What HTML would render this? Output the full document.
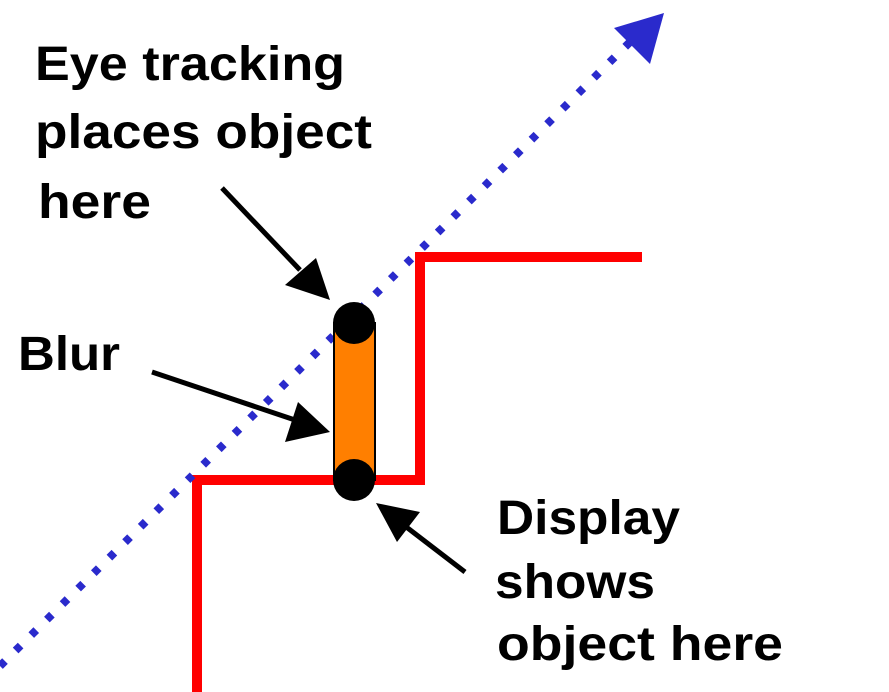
<!DOCTYPE html>
<html><head><meta charset="utf-8"><style>html,body{margin:0;padding:0;background:#fff}svg{display:block}</style></head>
<body>
<svg width="889" height="692" viewBox="0 0 889 692" xmlns="http://www.w3.org/2000/svg">
<g font-family="Liberation Sans, sans-serif" font-weight="bold" font-size="48" fill="#000">
<text x="35" y="80" textLength="310" lengthAdjust="spacingAndGlyphs">Eye tracking</text>
<text x="35" y="148" textLength="337" lengthAdjust="spacingAndGlyphs">places object</text>
<text x="38" y="218" textLength="113" lengthAdjust="spacingAndGlyphs">here</text>
<text x="18" y="370" textLength="102" lengthAdjust="spacingAndGlyphs">Blur</text>
<text x="497" y="534" textLength="183" lengthAdjust="spacingAndGlyphs">Display</text>
<text x="495" y="598" textLength="160" lengthAdjust="spacingAndGlyphs">shows</text>
<text x="497" y="660" textLength="286" lengthAdjust="spacingAndGlyphs">object here</text>
</g>
<polyline points="197,692 197,480 420,480 420,257 642,257" fill="none" stroke="#ff0000" stroke-width="10"/>
<line x1="0" y1="666" x2="630" y2="42" stroke="#2a2acc" stroke-width="8" stroke-dasharray="7 15"/>
<polygon points="664,13 614,28 650,64" fill="#2a2acc"/>
<rect x="334" y="323" width="41" height="157" fill="#ff7f00" stroke="#000" stroke-width="2"/>
<circle cx="354" cy="323" r="21" fill="#000"/>
<circle cx="354" cy="480" r="21" fill="#000"/>
<g stroke="#000" stroke-width="5" fill="#000">
<line x1="222" y1="188" x2="300" y2="270"/>
<polygon points="330,300 285,285 316,258" stroke="none"/>
<line x1="152" y1="372" x2="295" y2="420"/>
<polygon points="330,432 285,442 298,402" stroke="none"/>
<line x1="465" y1="572" x2="405" y2="526"/>
<polygon points="376,503 420,512 397,542" stroke="none"/>
</g>
</svg>
</body></html>
